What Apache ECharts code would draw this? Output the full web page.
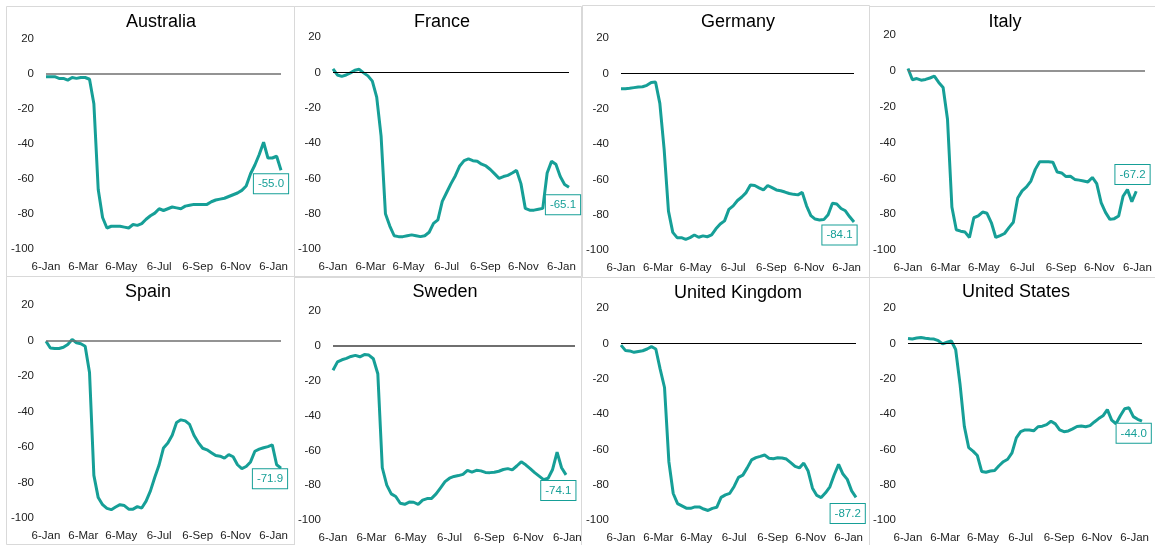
<!DOCTYPE html>
<html>
<head>
<meta charset="utf-8">
<script src="https://cdn.jsdelivr.net/npm/echarts@6/dist/echarts.min.js"></script>
<style>
html,body{margin:0;padding:0;background:#fff;}
#chart{width:1155px;height:545px;}
</style>
</head>
<body>
<div id="chart"></div>
<script>
// ---- Data ----
const firstWeek = '2020-01-06';   // weekly observations start here
const axisEnd = '2021-01-18';     // last week on the axis
const tickDates = ['2020-01-06','2020-03-06','2020-05-06','2020-07-06','2020-09-06','2020-11-06','2021-01-06'];
const tickLabels = ['6-Jan','6-Mar','6-May','6-Jul','6-Sep','6-Nov','6-Jan'];
const yTicks = [20, 0, -20, -40, -60, -80, -100];

const countries = ['Australia','France','Germany','Italy','Spain','Sweden','United Kingdom','United States'];

const australia = [-1.5,-1.5,-1.5,-2.5,-2.5,-3.5,-2,-2.5,-2,-2,-3,-17,-66,-82,-88,-87,-87,-87,-87.5,-88,-86,-86.5,-85.5,-83,-81,-79.5,-77,-78,-77,-76,-76.5,-77,-75.5,-75,-74.5,-74.5,-74.5,-74.5,-73,-72,-71.5,-71,-70,-69,-68,-66.5,-64,-57,-52,-46,-39,-48,-48,-47,-55.0];
const france = [2,-1.5,-2.3,-1.5,-0.3,1.2,1.7,-0.3,-2,-5,-14,-36,-80,-87,-92.5,-93,-93,-92.5,-92,-92.5,-93,-92.5,-90.5,-85.5,-83.5,-73,-68,-63,-58.5,-53,-50,-49,-50,-50.3,-52,-53,-55,-57.5,-60,-59,-58.3,-57,-55.5,-63,-77,-78,-78,-77.5,-77,-57,-50.4,-52,-59,-63.5,-65.1];
const germany = [-8.7,-8.7,-8.5,-8.1,-7.7,-7.6,-6.8,-5.2,-4.9,-17,-43,-78,-90,-93,-93,-94,-93,-91.5,-92.8,-92,-92.5,-91.5,-88,-85.3,-83.5,-77,-75,-72,-70,-67.5,-63.2,-63.5,-64.8,-66,-63.5,-64.7,-66,-66.5,-67.2,-68,-68.5,-68.8,-67.4,-75,-80.5,-82.5,-83,-82.8,-80,-73.5,-74,-76.5,-77.8,-81.2,-84.1];
const italy = [1.3,-5,-4.3,-5.2,-4.8,-4,-3,-6.5,-9.3,-27,-76,-88.7,-89.5,-90,-93,-82,-81,-78.8,-79.5,-84.8,-93,-92,-90.8,-87.5,-84.5,-71,-67,-64.8,-61.5,-55,-50.7,-50.7,-50.8,-51,-56.5,-57,-59,-58.8,-60.6,-61,-61.5,-62,-59.5,-63,-73.5,-79,-82.9,-82.5,-81,-70,-66.3,-73,-67.2];
const spain = [-0.4,-4.2,-4.5,-4.5,-3.8,-2.2,0.6,-1.3,-1.8,-3.2,-18,-76,-88.5,-92.5,-94.6,-95.3,-93.8,-92.5,-93,-95,-95,-93.6,-94.4,-90.5,-84.7,-77,-70,-60.5,-57.8,-53.4,-46.2,-44.7,-45.3,-47.3,-53.4,-57.5,-60.7,-61.6,-63.2,-64.8,-65.2,-66.3,-64.3,-65.5,-70,-72.2,-71,-68.4,-62.4,-61.2,-60.4,-59.8,-58.8,-70,-71.9];
const sweden = [-14,-9.2,-8,-7.2,-6.1,-5.5,-6.3,-5,-5.3,-7.4,-16,-70,-80,-85,-86.5,-90.4,-91,-89.7,-89.8,-91,-88.6,-87.7,-87.6,-85,-81.5,-78,-76,-75,-74.5,-73.8,-71.5,-72.5,-71.5,-71.8,-72.7,-72.8,-72.6,-72,-71,-70.5,-71.2,-69,-66.6,-68.3,-70.5,-72.8,-74.8,-76.8,-76,-71,-61,-70,-74.1];
const unitedKingdom = [-1,-4,-4.3,-5.1,-4.6,-4.2,-3.2,-1.9,-3.2,-14.6,-25,-67,-85,-90.7,-92,-93.3,-93.4,-92.6,-92.6,-93.8,-94.6,-93.4,-92.8,-87.2,-85.8,-84.9,-81,-75.9,-74.6,-70.5,-66,-64.7,-64,-63.2,-65,-65.3,-64.8,-64.9,-65.5,-67.5,-69.6,-70.5,-67.8,-72.3,-82,-86.1,-87.3,-84.6,-81.2,-74.4,-68.5,-74,-77,-83.5,-87.2];
const unitedStates = [2.8,2.5,3,3.3,2.9,2.6,2.4,1.5,-0.3,0.6,1.3,-3.5,-23,-47,-59,-61,-63.5,-72.5,-73,-72.3,-72,-69.3,-67,-65.6,-62,-53.5,-50,-49,-49.1,-49.5,-47.2,-46.9,-46,-44.1,-45.6,-49,-50,-49.6,-48.4,-47.1,-46.8,-47.2,-46.6,-44.5,-42.6,-41,-37.5,-43.5,-45.5,-41,-37,-36.5,-41.5,-43,-44.0];

const seriesValues = [australia, france, germany, italy, spain, sweden, unitedKingdom, unitedStates];

// ---- Layout / style (not data) ----
const panels = [
  {box:[6,6,288,270],   grid:[46,39,235,210],  title:[161,22], zero:'#6f6f6f', zw:1.5, lab:[-10,13.5]},
  {box:[294,6,287,270], grid:[333,37,236,212], title:[442,22], zero:'#000000', zw:1,   lab:[-6,17.5]},
  {box:[582,5,287,272], grid:[621,38,233,212], title:[738,22], zero:'#000000', zw:1,   lab:[-14.5,13]},
  {box:[869,6,290,271], grid:[908,35,237,215], title:[1005,22], zero:'#6f6f6f', zw:1.5, lab:[-3.7,-16.7]},
  {box:[6,276,288,268], grid:[46,305,235,213], title:[148,292], zero:'#6f6f6f', zw:1.5, lab:[-11,10.7]},
  {box:[294,277,287,270], grid:[333,311,242,209], title:[445,292], zero:'#6f6f6f', zw:2, lab:[-7.7,15.5]},
  {box:[581,277,288,270], grid:[621,308,235,212], title:[738,293], zero:'#000000', zw:1,   lab:[-8.3,16]},
  {box:[869,277,290,270], grid:[908,308,234,212], title:[1016,292], zero:'#000000', zw:1,  lab:[-8.3,12.3]}
];
const teal = '#169f97';
const textColor = '#222222';

const dayOf = s => {
  const p = s.split('-').map(Number);
  const b = firstWeek.split('-').map(Number);
  return Math.round((Date.UTC(p[0],p[1]-1,p[2]) - Date.UTC(b[0],b[1]-1,b[2]))/86400000);
};
const tickDays = tickDates.map(dayOf);
const maxDay = dayOf(axisEnd);

const grids = [], xAxes = [], yAxes = [], series = [], titles = [], graphics = [];
panels.forEach((p, k) => {
  graphics.push({type:'rect', silent:true, z:-1, shape:{x:p.box[0]+0.5, y:p.box[1]+0.5, width:p.box[2], height:p.box[3]},
    style:{fill:'none', stroke:'#d9d9d9', lineWidth:1}});
  grids.push({left:p.grid[0], top:p.grid[1], width:p.grid[2], height:p.grid[3], containLabel:false});
  titles.push({text:countries[k], left:p.title[0]-5, top:p.title[1]-14, textAlign:'center',
    textStyle:{fontFamily:'Liberation Sans', fontSize:18, fontWeight:'normal', color:'#000'}});
  xAxes.push({type:'value', gridIndex:k, min:0, max:maxDay,
    axisLine:{show:false}, axisTick:{show:false}, splitLine:{show:false},
    axisLabel:{customValues:tickDays, margin:12, fontFamily:'Liberation Sans', fontSize:11.5, color:textColor,
      formatter: v => { const i = tickDays.indexOf(Math.round(v)); return i >= 0 ? tickLabels[i] : ''; }}});
  yAxes.push({type:'value', gridIndex:k, min:-100, max:20, interval:20,
    axisLine:{show:false}, axisTick:{show:false}, splitLine:{show:false},
    axisLabel:{margin:12, fontFamily:'Liberation Sans', fontSize:11.5, color:textColor}});
  const vals = seriesValues[k];
  const data = vals.map((v, i) => [i*7, v]);
  const last = data[data.length-1];
  series.push({type:'line', xAxisIndex:k, yAxisIndex:k, data:data, showSymbol:false, symbol:'none',
    lineStyle:{color:teal, width:3}, itemStyle:{color:teal}, silent:true, animation:false,
    markLine:{silent:true, symbol:['none','none'], label:{show:false}, animation:false,
      lineStyle:{color:p.zero, width:p.zw, type:'solid'}, data:[{yAxis:0}]},
    markPoint:{silent:true, animation:false, symbol:'circle', symbolSize:0,
      data:[{coord:last, value:last[1].toFixed(1)}],
      label:{show:true, position:'inside', offset:p.lab, formatter: d => d.value,
        color:teal, fontFamily:'Liberation Sans', fontSize:11.5, backgroundColor:'#fff',
        borderColor:teal, borderWidth:1, padding:[4,4,3,4]}}
  });
});

const chart = echarts.init(document.getElementById('chart'), null, {renderer:'canvas'});
chart.setOption({
  animation:false,
  backgroundColor:'#fff',
  title:titles,
  grid:grids,
  xAxis:xAxes,
  yAxis:yAxes,
  series:series,
  graphic:graphics
});
</script>
</body>
</html>
